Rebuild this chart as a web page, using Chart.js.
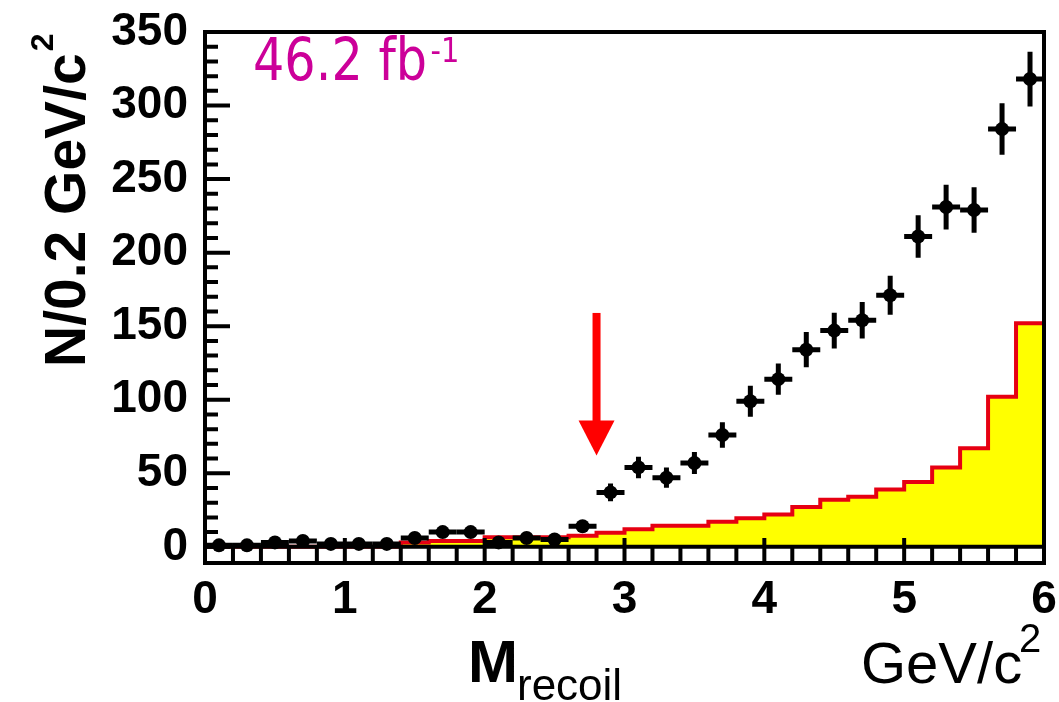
<!DOCTYPE html>
<html>
<head>
<meta charset="utf-8">
<script src="https://cdn.jsdelivr.net/npm/chart.js@4.4.1/dist/chart.umd.min.js"></script>
<style>
  html, body { margin: 0; padding: 0; background: #fff; }
</style>
</head>
<body>
<canvas id="myChart" width="1059" height="702"></canvas>
<script>
// bin centres of the data points (GeV/c^2), 0.2 wide bins
const binCenters = [0.1, 0.3, 0.5, 0.7, 0.9, 1.1, 1.3, 1.5, 1.7, 1.9,
                    2.1, 2.3, 2.5, 2.7, 2.9, 3.1, 3.3, 3.5, 3.7, 3.9,
                    4.1, 4.3, 4.5, 4.7, 4.9, 5.1, 5.3, 5.5, 5.7, 5.9];
const counts = [1, 1, 3, 4, 2, 2, 2, 6, 10, 10,
                3, 6, 5, 14, 37, 54, 47, 57, 76, 99,
                114, 134, 147, 154, 171, 211, 231, 229, 284, 318];
const countErrors = [3, 3, 2.5, 2.5, 2.5, 2.5, 2.5, 3, 3.5, 3.5,
                     2.5, 3, 3, 3.7, 6, 7.3, 6.9, 7.5, 8.7, 10.5,
                     10.7, 12, 12.1, 12.4, 13.3, 14.5, 15.2, 15.5, 17.5, 18.6];
// background histogram, left edges + contents
const binEdges = [0, 0.2, 0.4, 0.6, 0.8, 1.0, 1.2, 1.4, 1.6, 1.8,
                  2.0, 2.2, 2.4, 2.6, 2.8, 3.0, 3.2, 3.4, 3.6, 3.8,
                  4.0, 4.2, 4.4, 4.6, 4.8, 5.0, 5.2, 5.4, 5.6, 5.8, 6.0];
const background = [0, 0, 0, 0, 0, 0, 0, 3, 4, 4,
                    6.5, 6.5, 6.5, 7.5, 9.5, 12, 14.3, 14.3, 17, 19.5,
                    22, 27, 32, 34, 39, 44, 54, 67, 102, 152];
const xTickLabels = [0, 1, 2, 3, 4, 5, 6];
const yTickLabels = [0, 50, 100, 150, 200, 250, 300, 350];
// signal arrow (x in GeV/c^2, y in counts)
const arrowX = 2.8;
const arrowFrom = 159;
const arrowTo = 62;

const RED = '#e60012';
const YELLOW = '#ffff00';
const MAGENTA = '#cc0099';
const FONT = "'Liberation Sans', Arial, sans-serif";

const histPoints = binEdges.map((e, i) => ({ x: e, y: background[Math.min(i, background.length - 1)] }));
const dataPoints = binCenters.map((c, i) => ({ x: c, y: counts[i] }));

const decorations = {
  id: 'decorations',
  afterDatasetsDraw(chart) {
    const { ctx, chartArea: a, scales: { x, y } } = chart;
    ctx.save();
    ctx.beginPath();
    ctx.rect(a.left, a.top, a.right - a.left, a.bottom - a.top);
    ctx.clip();
    ctx.strokeStyle = '#000';
    ctx.lineWidth = 4;
    // zero line
    ctx.beginPath();
    ctx.moveTo(x.getPixelForValue(0), y.getPixelForValue(0));
    ctx.lineTo(x.getPixelForValue(6), y.getPixelForValue(0));
    ctx.stroke();
    // error bars
    ctx.lineWidth = 5;
    binCenters.forEach((c, i) => {
      const px = x.getPixelForValue(c);
      const py = y.getPixelForValue(counts[i]);
      ctx.beginPath();
      ctx.moveTo(px, y.getPixelForValue(counts[i] - countErrors[i]));
      ctx.lineTo(px, y.getPixelForValue(counts[i] + countErrors[i]));
      ctx.moveTo(x.getPixelForValue(c - 0.1), py);
      ctx.lineTo(x.getPixelForValue(c + 0.1), py);
      ctx.stroke();
    });
    ctx.restore();
  },
  afterDraw(chart) {
    const { ctx, chartArea: a, scales: { x, y } } = chart;
    ctx.save();
    ctx.strokeStyle = '#000';
    ctx.lineWidth = 4;
    // tick marks drawn inward, ROOT style
    ctx.beginPath();
    for (let v = 0; v <= 350; v += 10) {
      const py = y.getPixelForValue(v);
      ctx.moveTo(a.left, py);
      ctx.lineTo(a.left + (v % 50 === 0 ? 25 : 13), py);
    }
    for (let k = 0; k <= 30; k++) {
      const px = x.getPixelForValue(k * 0.2);
      ctx.moveTo(px, a.bottom);
      ctx.lineTo(px, a.bottom - (k % 5 === 0 ? 25 : 15));
    }
    ctx.stroke();
    // frame
    ctx.strokeRect(a.left, a.top, a.right - a.left, a.bottom - a.top);

    // arrow
    const ax = x.getPixelForValue(arrowX);
    const aTop = y.getPixelForValue(arrowFrom);
    const aTip = y.getPixelForValue(arrowTo);
    const headLen = 35, headHalf = 18;
    ctx.fillStyle = '#ff0000';
    ctx.fillRect(ax - 4, aTop, 8, aTip - headLen - aTop + 2);
    ctx.beginPath();
    ctx.moveTo(ax - headHalf, aTip - headLen);
    ctx.lineTo(ax + headHalf, aTip - headLen);
    ctx.lineTo(ax, aTip);
    ctx.closePath();
    ctx.fill();

    // luminosity label
    ctx.fillStyle = MAGENTA;
    ctx.textBaseline = 'alphabetic';
    ctx.textAlign = 'left';
    ctx.save();
    ctx.translate(253, 80);
    ctx.scale(0.85, 1);
    ctx.font = "58px 'DejaVu Sans', sans-serif";
    ctx.fillText('46.2 fb', 0, 0);
    const lw = ctx.measureText('46.2 fb').width;
    ctx.font = "34px 'DejaVu Sans', sans-serif";
    ctx.fillText('-1', lw + 4, -18);
    ctx.restore();

    // axis titles
    ctx.fillStyle = '#000';
    ctx.save();
    ctx.translate(85, 367);
    ctx.rotate(-Math.PI / 2);
    ctx.font = 'bold 57px ' + FONT;
    ctx.fillText('N/0.2 GeV/c', 0, 0);
    const tw = ctx.measureText('N/0.2 GeV/c').width;
    ctx.font = 'bold 32px ' + FONT;
    ctx.fillText('2', tw + 2, -32);
    ctx.restore();

    ctx.font = 'bold 60px ' + FONT;
    ctx.fillText('M', 468, 682);
    ctx.font = '44px ' + FONT;
    ctx.fillText('recoil', 517, 700);
    ctx.font = '58px ' + FONT;
    ctx.fillText('GeV/c', 861, 683);
    ctx.font = '40px ' + FONT;
    ctx.fillText('2', 1019, 652);
    ctx.restore();
  }
};

new Chart(document.getElementById('myChart'), {
  type: 'scatter',
  data: {
    datasets: [{
      type: 'line',
      label: 'background',
      data: histPoints,
      stepped: 'before',
      borderColor: RED,
      borderWidth: 4,
      backgroundColor: YELLOW,
      fill: 'origin',
      pointRadius: 0,
      order: 2
    }, {
      label: 'data',
      data: dataPoints,
      pointRadius: 7,
      pointStyle: 'circle',
      backgroundColor: '#000',
      borderColor: '#000',
      borderWidth: 0,
      order: 1
    }]
  },
  options: {
    responsive: false,
    animation: false,
    layout: { padding: { left: 0, right: 15, top: 32, bottom: 0 } },
    plugins: { legend: { display: false }, tooltip: { enabled: false } },
    scales: {
      x: {
        type: 'linear',
        min: 0,
        max: 6,
        grid: { display: false, drawTicks: false },
        border: { display: false },
        afterBuildTicks: s => { s.ticks = xTickLabels.map(v => ({ value: v })); },
        afterFit: s => { s.height = 139; s.paddingLeft = 0; s.paddingRight = 0; },
        ticks: { color: '#000', font: { family: FONT, size: 46, weight: 'bold' }, padding: 10, maxRotation: 0, autoSkip: false }
      },
      y: {
        type: 'linear',
        min: -11,
        max: 350,
        grid: { display: false, drawTicks: false },
        border: { display: false },
        afterBuildTicks: s => { s.ticks = yTickLabels.map(v => ({ value: v })); },
        afterFit: s => { s.width = 205; s.paddingTop = 0; s.paddingBottom = 0; },
        ticks: { color: '#000', font: { family: FONT, size: 46, weight: 'bold' }, padding: 17, autoSkip: false }
      }
    }
  },
  plugins: [decorations]
});
</script>
</body>
</html>
